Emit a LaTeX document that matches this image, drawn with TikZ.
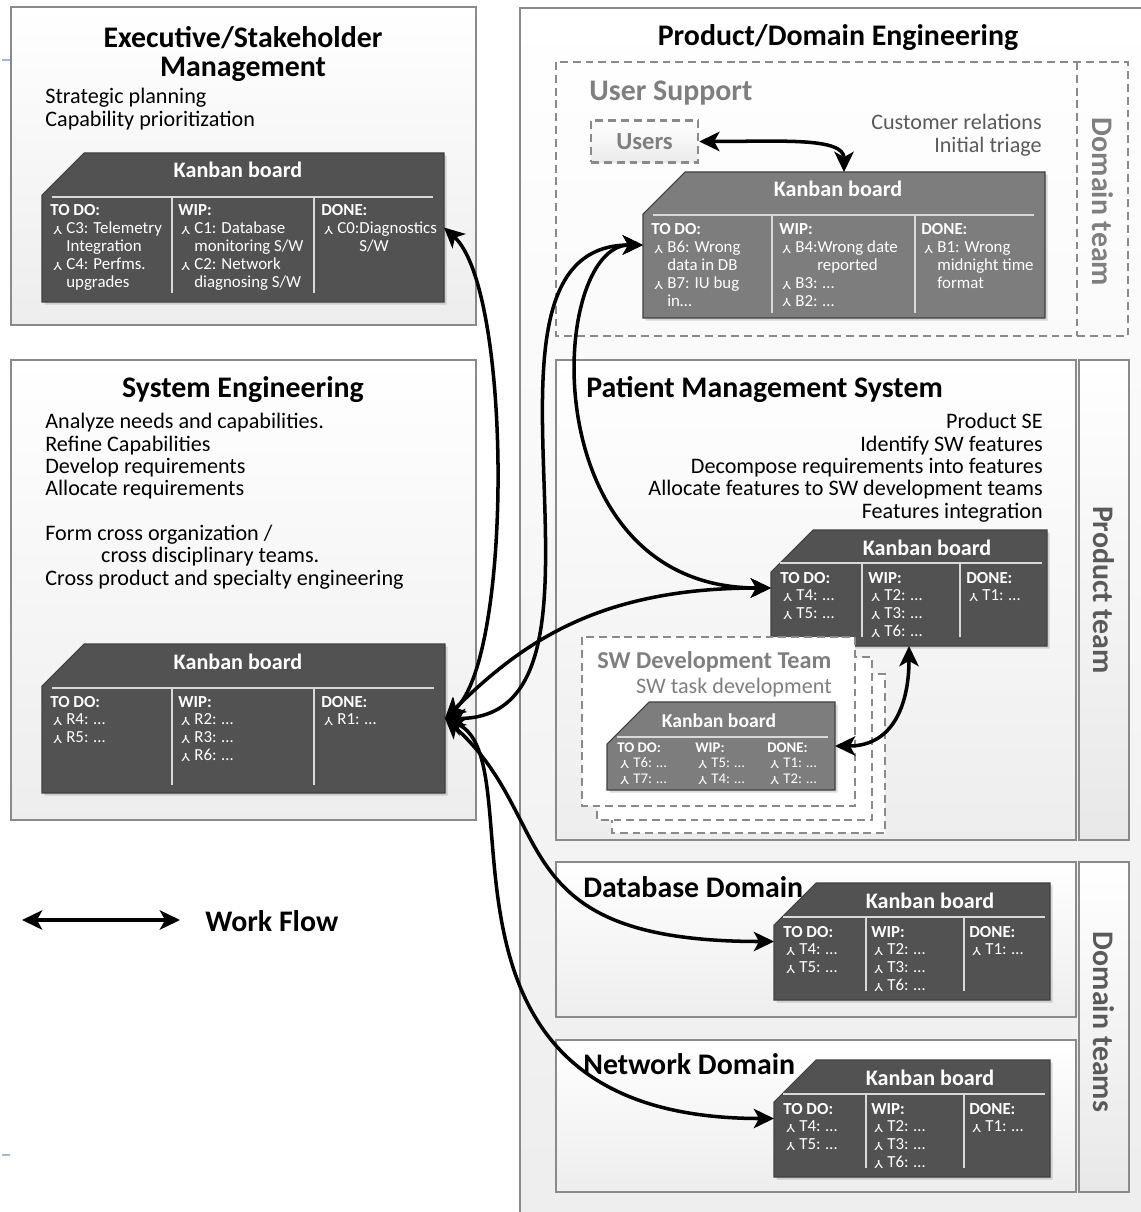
\documentclass[tikz,border=0pt]{standalone}
\usepackage{fontspec}
\setmainfont{Carlito}
\usetikzlibrary{calc,arrows.meta,shadows}

\definecolor{kbdark}{HTML}{525252}
\definecolor{kbmid}{HTML}{7D7D7D}
\definecolor{framegray}{HTML}{8A8A8A}
\definecolor{labgray}{HTML}{7F7F7F}
\definecolor{subgray}{HTML}{5A5A5A}
\definecolor{markblue}{HTML}{A0BCD4}

% bullet of the board items
\newcommand{\kbglyph}{\raisebox{4.4pt}{\rotatebox{180}{\scalebox{1.45}[1]{\fontsize{7}{7}\selectfont Y}}}}
\newcommand{\kb}{\hspace*{1.7pt}\makebox[7.4pt][l]{\kbglyph}}
\newcommand{\kbc}{\hspace*{9.1pt}}
\newcommand{\kbcc}{\hspace*{21.6pt}}

% board: [title options] name, x, y (top left), width, height, fill, title x
\newcommand{\kanban}[8][]{%
  \node[kbframe,minimum width=#5*0.02cm,minimum height=#6*0.02cm] (#2) at (#3,#4) {};
  \filldraw[kbbody,fill=#7] (#2.south west) -- ($(#2.north west)+(0,42)$) -- ($(#2.north west)+(42,0)$) -- (#2.north east) -- (#2.south east) -- cycle;
  \node[kbtitle,#1] (#2-title) at ($(#2.north west)+(#8,25)$) {Kanban board};}
\newcommand{\kbline}[4]{\draw[kbrule] ($(#1.north west)+(#3,#2)$) -- ($(#1.north east)+(-#4,#2)$);}
\newcommand{\kbsep}[4]{\draw[kbrule] ($(#1.north west)+(#2,#3)$) -- ($(#1.north west)+(#2,#4)$);}
\newcommand{\kbcol}[5][kbtext]{\node[#1] (#2-c#3) at ($(#2.north west)+(#3,#4)$) {\begin{tabular}[t]{@{}l@{}}#5\end{tabular}};}

\begin{document}
\begin{tikzpicture}[x=0.02cm,y=-0.02cm,
  area/.style={draw=framegray,line width=1.5pt,top color=white,bottom color=black!7},
  strip/.style={draw=framegray,line width=1.5pt,top color=white,bottom color=black!9},
  dashbox/.style={draw=framegray,line width=1.4pt,dash pattern=on 4.5pt off 2.8pt},
  kbframe/.style={rectangle,inner sep=0pt,outer sep=0pt,anchor=north west},
  kbbody/.style={draw=black!75,line width=0.6pt,drop shadow={shadow xshift=1.5pt,shadow yshift=-1.5pt,opacity=.3}},
  kbtitle/.style={anchor=base,inner sep=0pt,text=white,font=\fontsize{12.6}{12.6}\selectfont\bfseries},
  kbrule/.style={draw=white!85!black,line width=0.7pt},
  kbtext/.style={anchor=base west,inner sep=0pt,text=white,font=\fontsize{9.6}{10.2}\selectfont},
  kbsmall/.style={kbtext,font=\fontsize{8.4}{9.1}\selectfont},
  head/.style={inner sep=0pt,font=\fontsize{17}{16.5}\selectfont\bfseries},
  body/.style={inner sep=0pt,font=\fontsize{12.6}{12.7}\selectfont},
  vlabel/.style={rotate=-90,inner sep=0pt,font=\fontsize{17}{17}\selectfont\bfseries},
  flow/.style={line width=2pt,>={Stealth[length=11.5pt,width=11pt,inset=3pt]},<->}]
\useasboundingbox (0,0) rectangle (1141,1212);
\clip (0,0) rectangle (1141,1212);
\fill[white] (0,0) rectangle (1141,1212);
\draw[markblue,line width=1pt] (2,60) -- (10,60);
\draw[markblue,line width=1pt] (2,1155) -- (10,1155);

% executive
\draw[area] (11,7) rectangle (476,325);
\node[head,anchor=base] (exectitle) at (243,48) {\begin{tabular}[t]{@{}c@{}}Executive/Stakeholder\\Management\end{tabular}};
\node[body,anchor=base west] (exectext) at (45,104) {\begin{tabular}[t]{@{}l@{}}Strategic planning\\Capability prioritization\end{tabular}};
\kanban{execb}{42}{153}{402}{149}{kbdark}{196}
\kbline{execb}{44}{10}{11}
\kbsep{execb}{130}{44}{140}
\kbsep{execb}{272}{44}{140}
\kbcol{execb}{8}{63}{\textbf{TO DO:}\\\kb C3: Telemetry\\\kbc Integration\\\kb C4: Perfms.\\\kbc upgrades}
\kbcol{execb}{136}{63}{\textbf{WIP:}\\\kb C1: Database\\\kbc monitoring S/W\\\kb C2: Network\\\kbc diagnosing S/W}
\kbcol{execb}{279}{63}{\textbf{DONE:}\\\kb C0:Diagnostics\\\kbcc S/W}

% system engineering
\draw[area] (11,360) rectangle (476,820);
\node[head,anchor=base] (systitle) at (243,398) {System Engineering};
\node[body,anchor=base west] (systext) at (45,429) {\begin{tabular}[t]{@{}l@{}}Analyze needs and capabilities.\\Refine Capabilities\\Develop requirements\\Allocate requirements\\ \\Form cross organization /\\\hspace*{31.8pt}cross disciplinary teams.\\Cross product and specialty engineering\end{tabular}};
\kanban{sysb}{42}{644}{403}{149}{kbdark}{196}
\kbline{sysb}{44}{10}{11}
\kbsep{sysb}{130}{44}{141}
\kbsep{sysb}{272}{44}{141}
\kbcol{sysb}{8}{63}{\textbf{TO DO:}\\\kb R4: …\\\kb R5: …}
\kbcol{sysb}{136}{63}{\textbf{WIP:}\\\kb R2: …\\\kb R3: …\\\kb R6: …}
\kbcol{sysb}{279}{63}{\textbf{DONE:}\\\kb R1: …}

% legend
\coordinate (legA) at (22,920);
\coordinate (legB) at (180,920);
\draw[flow] (legA) -- (legB);
\node[head,anchor=base west] (legtext) at (205,931) {Work Flow};

% product/domain engineering
\draw[area] (520,8) rectangle (1170,1240);
\node[head,anchor=base] (pdetitle) at (838,46) {Product/Domain Engineering};

% user support
\draw[dashbox] (556,62) rectangle (1128,336);
\draw[dashbox] (1077,62) -- (1077,336);
\node[head,anchor=base west,text=labgray] (ustitle) at (589,101) {User Support};
\node[dashbox,top color=white,bottom color=black!8,minimum width=2.14cm,minimum height=0.84cm,text=labgray,font=\fontsize{14}{14}\selectfont\bfseries] (users) at (644.5,141.5) {Users};
\node[body,anchor=base east,text=subgray] (ustext) at (1042,130) {\begin{tabular}[t]{@{}r@{}}Customer relations\\Initial triage\end{tabular}};
\node[vlabel,text=labgray] (dteam) at (1103,202) {Domain team};
\kanban{usb}{643}{172}{402}{146}{kbmid}{195}
\kbline{usb}{43}{10}{11}
\kbsep{usb}{129}{43}{141}
\kbsep{usb}{272}{43}{141}
\kbcol{usb}{8}{63}{\textbf{TO DO:}\\\kb B6: Wrong\\\kbc data in DB\\\kb B7: IU bug\\\kbc in…}
\kbcol{usb}{136}{63}{\textbf{WIP:}\\\kb B4:Wrong date\\\kbcc reported\\\kb B3: …\\\kb B2: …}
\kbcol{usb}{278}{63}{\textbf{DONE:}\\\kb B1: Wrong\\\kbc midnight time\\\kbc format}

% patient management system
\draw[area] (556,360) rectangle (1076,840);
\draw[strip] (1079,360) rectangle (1129,840);
\node[head,anchor=base west] (pmstitle) at (586,398) {Patient Management System};
\node[body,anchor=base east] (pmstext) at (1043,429) {\begin{tabular}[t]{@{}r@{}}Product SE\\Identify SW features\\Decompose requirements into features\\Allocate features to SW development teams\\Features integration\end{tabular}};
\node[vlabel,text=subgray] (pteam) at (1104,590) {Product team};
\kanban{pmsb}{771}{530}{276}{116}{kbdark}{156}
\kbline{pmsb}{33}{9}{5}
\kbsep{pmsb}{91}{33}{107}
\kbsep{pmsb}{189}{33}{107}
\kbcol{pmsb}{9}{53}{\textbf{TO DO:}\\\kb T4: …\\\kb T5: …}
\kbcol{pmsb}{97}{53}{\textbf{WIP:}\\\kb T2: …\\\kb T3: …\\\kb T6: …}
\kbcol{pmsb}{195}{53}{\textbf{DONE:}\\\kb T1: …}

% sw development teams
\draw[dashbox,fill=white] (612,674) rectangle (885,833);
\draw[dashbox,fill=white] (597,657) rectangle (872,820);
\draw[dashbox,fill=white] (582,637) rectangle (855,806);
\node[anchor=base west,inner sep=0pt,text=labgray,font=\fontsize{13.8}{13.8}\selectfont\bfseries] (swtitle) at (597,668) {SW Development Team};
\node[body,anchor=base east,text=labgray] (swtext) at (832,693) {SW task development};
\kanban[font=\fontsize{11.2}{11.2}\selectfont\bfseries]{swb}{607}{702}{228}{88}{kbmid}{112}
\kbline{swb}{35}{10}{7}
\kbcol[kbsmall]{swb}{10}{50}{\textbf{TO DO:}\\\kb T6: …\\\kb T7: …}
\kbcol[kbsmall]{swb}{88}{50}{\textbf{WIP:}\\\kb T5: …\\\kb T4: …}
\kbcol[kbsmall]{swb}{160}{50}{\textbf{DONE:}\\\kb T1: …\\\kb T2: …}

% database domain
\draw[area] (556,862) rectangle (1076,1017);
\kanban{dbb}{774}{883}{276}{117}{kbdark}{156}
\kbline{dbb}{34}{9}{5}
\kbsep{dbb}{92}{34}{108}
\kbsep{dbb}{190}{34}{108}
\kbcol{dbb}{9}{54}{\textbf{TO DO:}\\\kb T4: …\\\kb T5: …}
\kbcol{dbb}{97}{54}{\textbf{WIP:}\\\kb T2: …\\\kb T3: …\\\kb T6: …}
\kbcol{dbb}{195}{54}{\textbf{DONE:}\\\kb T1: …}
\node[head,anchor=base west] (dbtitle) at (583,897) {Database Domain};

% network domain
\draw[area] (556,1040) rectangle (1076,1192);
\kanban{netb}{774}{1060}{276}{117}{kbdark}{156}
\kbline{netb}{34}{9}{5}
\kbsep{netb}{92}{34}{108}
\kbsep{netb}{190}{34}{108}
\kbcol{netb}{9}{54}{\textbf{TO DO:}\\\kb T4: …\\\kb T5: …}
\kbcol{netb}{97}{54}{\textbf{WIP:}\\\kb T2: …\\\kb T3: …\\\kb T6: …}
\kbcol{netb}{195}{54}{\textbf{DONE:}\\\kb T1: …}
\node[head,anchor=base west] (nettitle) at (583,1074) {Network Domain};
\draw[strip] (1079,862) rectangle (1129,1192);
\node[vlabel,text=subgray] (dteams) at (1104,1022) {Domain teams};

% work flow
\draw[flow] (execb.east) .. controls +(68,62) and +(68,-62) .. (sysb.east);
\draw[flow] (usb.west) .. controls +(-200,0) and +(200,0) .. (sysb.east);
\draw[flow] (usb.west) .. controls +(-95,0) and +(-240,0) .. (pmsb.west);
\draw[flow] (sysb.east) .. controls +(79,-78) and +(-170,0) .. (pmsb.west);
\draw[flow] (sysb.east) .. controls +(114,102) and +(-274,0) .. (dbb.west);
\draw[flow] (sysb.east) .. controls +(94,42) and +(-374,0) .. (netb.west);
\draw[flow] (users.east) .. controls +(80,0) and +(0,-35) .. (usb.north);
\draw[flow] (swb.east) .. controls +(60,0) and +(0,55) .. (pmsb.south);
\end{tikzpicture}
\end{document}
